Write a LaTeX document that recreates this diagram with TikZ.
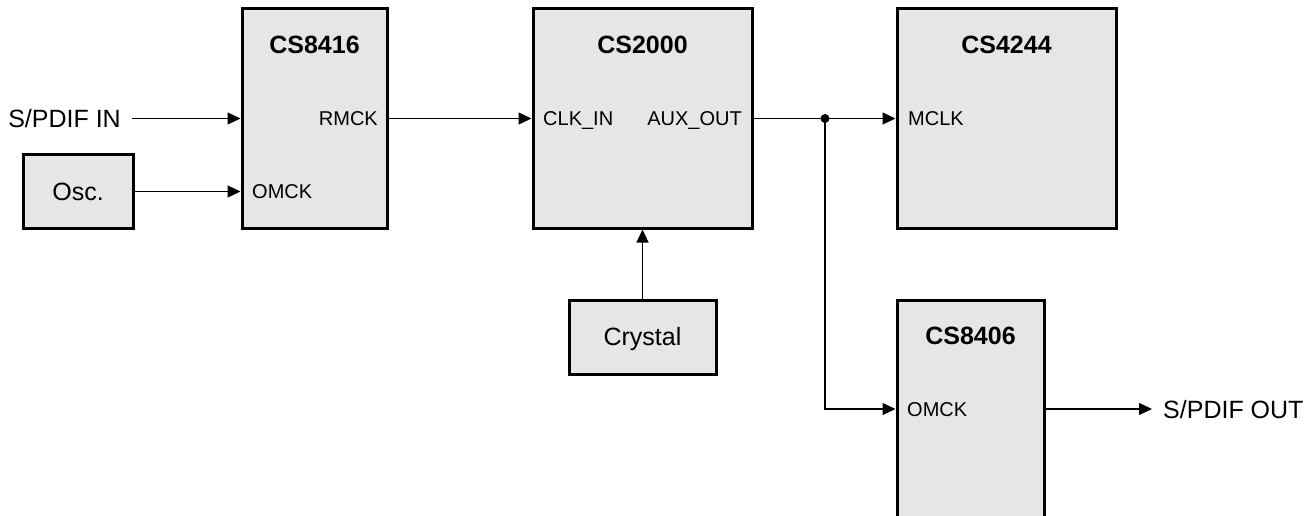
\documentclass[tikz,border=0pt]{standalone}
\usepackage{fontspec}
\setmainfont{Liberation Sans}
\usetikzlibrary{positioning,arrows.meta,calc}
\definecolor{chipgray}{HTML}{E6E6E6}

\begin{document}
\begin{tikzpicture}[
  x=1pt, y=-1pt,
  chip/.style={rectangle, draw=black, line width=3pt, fill=chipgray, inner sep=0pt},
  part/.style={chip, font=\fontsize{25}{30}\selectfont, text height=17.9pt, text depth=0pt},
  title/.style={anchor=base, inner sep=0pt, font=\fontsize{25}{30}\selectfont\bfseries},
  pin/.style={inner sep=0pt, font=\fontsize{20}{24}\selectfont},
  io/.style={inner xsep=11pt, inner ysep=0pt, font=\fontsize{25}{30}\selectfont},
  sig/.style={line width=1.2pt, -{Triangle[length=13pt, width=12pt]}},
]
\useasboundingbox (0,0) rectangle (1315,516);

% chips
\node[chip, minimum width=145pt, minimum height=219pt] (cs8416) at (314.5,118.5) {};
\node[chip, minimum width=219pt, minimum height=219pt] (cs2000) at (642.5,118.5) {};
\node[chip, minimum width=219pt, minimum height=219pt] (cs4244) at (1006.5,118.5) {};
\node[chip, minimum width=147pt, minimum height=218pt] (cs8406) at (970.5,409) {};

% clock sources
\node[part, minimum width=110pt, minimum height=73pt] (osc) at (78,191.5) {Osc.};
\node[part, minimum width=147pt, minimum height=74pt] (crystal) at (642.5,337) {Crystal};

% chip names
\node[title] (t8416) at ($(cs8416.north)+(0,46)$) {CS8416};
\node[title] (t2000) at ($(cs2000.north)+(0,46)$) {CS2000};
\node[title] (t4244) at ($(cs4244.north)+(0,46)$) {CS4244};
\node[title] (t8406) at ($(cs8406.north)+(0,46)$) {CS8406};

% pins
\node[pin, anchor=base east] (rmck) at (378,125.5) {RMCK};
\node[pin, anchor=base west] (omcka) at (252,198.5) {OMCK};
\node[pin, anchor=base west] (clkin) at (543,125.5) {CLK\_IN};
\node[pin, anchor=base east] (auxout) at (742,125.5) {AUX\_OUT};
\node[pin, anchor=base west] (mclk) at (908,125.5) {MCLK};
\node[pin, anchor=base west] (omckb) at (907,416) {OMCK};

% in / out
\node[io, anchor=base east] (spdifin) at (132,127.5) {S/PDIF IN};
\node[io, anchor=base west] (spdifout) at (1152,418) {S/PDIF OUT};

% signals
\draw[sig] (spdifin.east |- cs8416.west) -- (cs8416.west);
\draw[sig] (osc.east) -- (osc.east -| cs8416.west);
\draw[sig] (cs8416.east) -- (cs2000.west);
\draw[sig] (crystal.north) -- (cs2000.south);
\draw[sig] (cs2000.east) -- (cs4244.west);
\coordinate (split) at (825,118.5);
\fill (split) circle[radius=4.5pt];
\draw[sig] (split) |- (cs8406.west);
\draw[sig] (cs8406.east) -- (spdifout.west |- cs8406.east);
\end{tikzpicture}
\end{document}
